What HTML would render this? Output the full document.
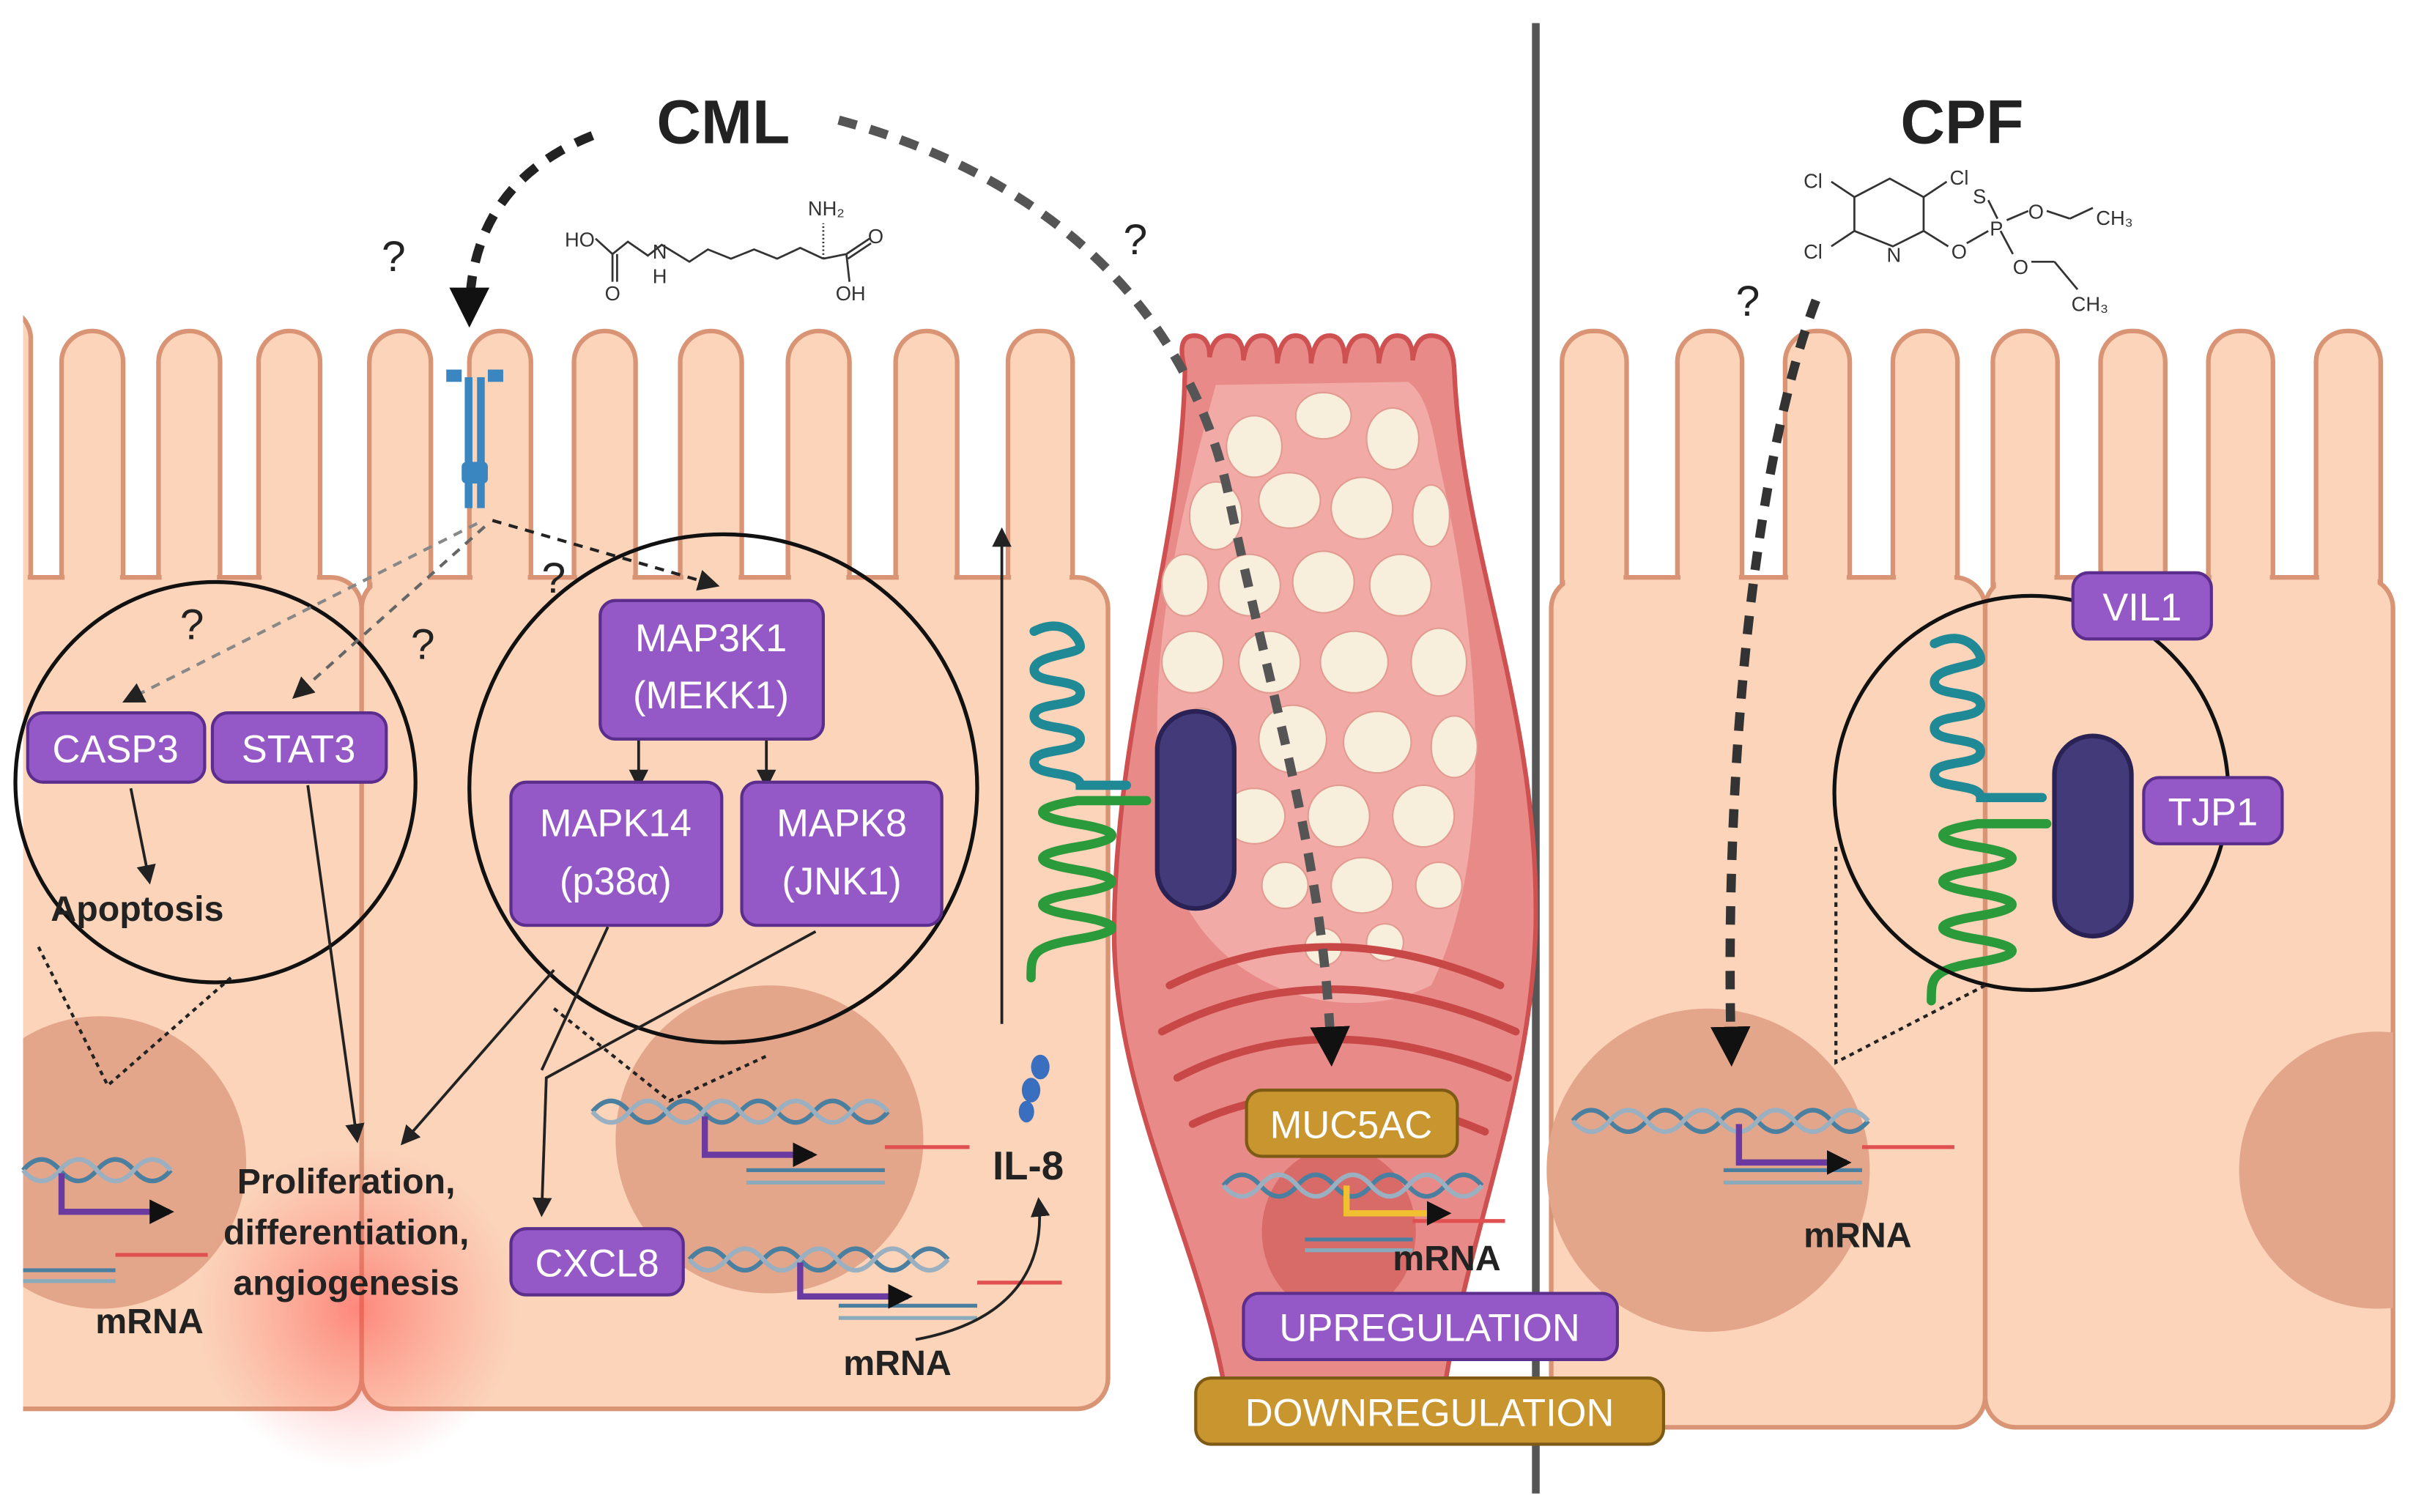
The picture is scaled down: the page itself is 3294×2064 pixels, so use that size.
<!DOCTYPE html>
<html><head><meta charset="utf-8"><style>
html,body{margin:0;padding:0;background:#fff}
svg{display:block}
text{font-family:"Liberation Sans",sans-serif}
.pb{fill:#9459c6;stroke:#5b2d8c;stroke-width:2}
.gb{fill:#c9952f;stroke:#7d5a15;stroke-width:2}
.bt{fill:#fff;font-size:25px;text-anchor:middle}
.cell{fill:#fbd4ba;stroke:#d89475;stroke-width:3}
.cf{fill:#fbd4ba}
.k{fill:#222;font-weight:bold}
.ch{font-size:13px;fill:#333}
</style></head><body>
<svg width="3294" height="2064" viewBox="0 0 1568 982" preserveAspectRatio="none" xmlns="http://www.w3.org/2000/svg">
<defs>
<marker id="ah" viewBox="0 0 10 10" refX="8" refY="5" markerWidth="7" markerHeight="7" orient="auto"><path d="M0,0L10,5L0,10z" fill="#222"/></marker>
<marker id="big" viewBox="0 0 10 10" refX="7" refY="5" markerUnits="userSpaceOnUse" markerWidth="26" markerHeight="26" orient="auto"><path d="M0,0L10,5L0,10z" fill="#111"/></marker>
<marker id="ahb" viewBox="0 0 10 10" refX="8" refY="5" markerWidth="4" markerHeight="4" orient="auto"><path d="M0,0L10,5L0,10z" fill="#111"/></marker>
<radialGradient id="glow"><stop offset="0" stop-color="#ff3b3b" stop-opacity="0.5"/><stop offset="1" stop-color="#ff6060" stop-opacity="0"/></radialGradient>
<clipPath id="lc"><rect x="15" y="0" width="1553" height="982"/></clipPath>
<clipPath id="c1"><rect x="15" y="370" width="220" height="545"/></clipPath>
<clipPath id="c4"><rect x="1290" y="370" width="265" height="555"/></clipPath>
</defs>

<g clip-path="url(#lc)">
<g>
<rect class="cell" x="-20" y="200" width="40" height="200" rx="20"/>
<rect class="cell" x="40" y="215" width="40" height="190" rx="20"/>
<rect class="cell" x="103" y="215" width="40" height="190" rx="20"/>
<rect class="cell" x="168" y="215" width="40" height="190" rx="20"/>
<rect class="cell" x="240" y="215" width="40" height="190" rx="20"/>
<rect class="cell" x="305" y="215" width="40" height="190" rx="20"/>
<rect class="cell" x="373" y="215" width="40" height="190" rx="20"/>
<rect class="cell" x="442" y="215" width="40" height="190" rx="20"/>
<rect class="cell" x="512" y="215" width="40" height="190" rx="20"/>
<rect class="cell" x="582" y="215" width="40" height="190" rx="20"/>
<rect class="cell" x="655" y="215" width="42" height="190" rx="20"/>
<rect class="cell" x="-20" y="375" width="255" height="540" rx="20"/>
<rect class="cell" x="235" y="375" width="485" height="540" rx="20"/>
<g class="cf">
<rect x="-20" y="370" width="38" height="15"/>
<rect x="42" y="370" width="36" height="15"/><rect x="105" y="370" width="36" height="15"/><rect x="170" y="370" width="36" height="15"/>
<rect x="242" y="370" width="36" height="15"/><rect x="307" y="370" width="36" height="15"/><rect x="375" y="370" width="36" height="15"/>
<rect x="444" y="370" width="36" height="15"/><rect x="514" y="370" width="36" height="15"/><rect x="584" y="370" width="36" height="15"/><rect x="657" y="370" width="38" height="15"/>
</g>
</g>
<circle cx="65" cy="755" r="95" fill="#e3a68a" clip-path="url(#c1)"/>
<circle cx="500" cy="740" r="100" fill="#e3a68a"/>
</g>
<circle cx="232" cy="850" r="105" fill="url(#glow)"/>

<g>
<rect class="cell" x="1015" y="215" width="42" height="190" rx="20"/>
<rect class="cell" x="1090" y="215" width="42" height="190" rx="20"/>
<rect class="cell" x="1160" y="215" width="42" height="190" rx="20"/>
<rect class="cell" x="1230" y="215" width="42" height="190" rx="20"/>
<rect class="cell" x="1295" y="215" width="42" height="190" rx="20"/>
<rect class="cell" x="1365" y="215" width="42" height="190" rx="20"/>
<rect class="cell" x="1435" y="215" width="42" height="190" rx="20"/>
<rect class="cell" x="1505" y="215" width="42" height="190" rx="20"/>
<rect class="cell" x="1008" y="375" width="282" height="552" rx="20"/>
<rect class="cell" x="1290" y="375" width="265" height="552" rx="20"/>
<g class="cf">
<rect x="1017" y="370" width="38" height="15"/><rect x="1092" y="370" width="38" height="15"/><rect x="1162" y="370" width="38" height="15"/>
<rect x="1232" y="370" width="38" height="15"/><rect x="1297" y="370" width="38" height="15"/><rect x="1367" y="370" width="38" height="15"/>
<rect x="1437" y="370" width="38" height="15"/><rect x="1507" y="370" width="38" height="15"/>
</g>
<circle cx="1110" cy="760" r="105" fill="#e3a68a"/>
<circle cx="1545" cy="760" r="90" fill="#e3a68a" clip-path="url(#c4)"/>
</g>

<line x1="998" y1="15" x2="998" y2="970" stroke="#555" stroke-width="5"/>

<!-- GOBLET -->
<path d="M770,240 Q764,218 776,218 Q786,218 786,232 Q788,218 798,218 Q808,218 808,234 Q810,218 820,218 Q830,218 830,236 Q832,218 842,218 Q852,218 852,236 Q854,218 864,218 Q874,218 874,236 Q876,218 886,218 Q896,218 896,236 Q898,218 908,218 Q918,218 918,234 Q920,218 930,218 Q944,218 945,240 C950,360 1000,460 998,600 C995,720 945,820 935,932 L800,932 C790,820 722,720 724,600 C726,460 768,360 770,240Z" fill="#e88a88" stroke="#cf5050" stroke-width="3"/>
<path d="M790,250 C760,360 740,450 760,560 C780,640 870,670 930,640 C970,560 965,430 935,300 C930,270 925,255 915,248 Z" fill="#f1aaa6"/>
<g fill="#f8eedc" stroke="#e39a90" stroke-width="1">
<ellipse cx="815" cy="290" rx="18" ry="20"/><ellipse cx="860" cy="270" rx="18" ry="15"/><ellipse cx="905" cy="285" rx="17" ry="20"/>
<ellipse cx="790" cy="335" rx="17" ry="22"/><ellipse cx="838" cy="325" rx="20" ry="18"/><ellipse cx="885" cy="330" rx="20" ry="20"/><ellipse cx="930" cy="335" rx="12" ry="20"/>
<ellipse cx="770" cy="380" rx="15" ry="20"/><ellipse cx="812" cy="380" rx="20" ry="20"/><ellipse cx="860" cy="378" rx="20" ry="20"/><ellipse cx="910" cy="380" rx="20" ry="20"/>
<ellipse cx="775" cy="430" rx="20" ry="20"/><ellipse cx="825" cy="430" rx="20" ry="20"/><ellipse cx="880" cy="430" rx="22" ry="20"/><ellipse cx="935" cy="430" rx="18" ry="22"/>
<ellipse cx="780" cy="480" rx="18" ry="20"/><ellipse cx="840" cy="480" rx="22" ry="22"/><ellipse cx="895" cy="482" rx="22" ry="20"/><ellipse cx="945" cy="485" rx="15" ry="20"/>
<ellipse cx="815" cy="530" rx="20" ry="18"/><ellipse cx="870" cy="530" rx="20" ry="20"/><ellipse cx="925" cy="530" rx="20" ry="20"/>
<ellipse cx="835" cy="575" rx="15" ry="15"/><ellipse cx="885" cy="575" rx="20" ry="18"/><ellipse cx="935" cy="575" rx="15" ry="15"/>
<ellipse cx="860" cy="615" rx="12" ry="12"/><ellipse cx="900" cy="612" rx="12" ry="12"/>
</g>
<g fill="none" stroke="#c84848" stroke-width="5" stroke-linecap="round">
<path d="M760,640 Q860,590 975,640"/><path d="M755,670 Q860,615 985,670"/><path d="M765,700 Q860,650 980,700"/>
<path d="M775,730 Q860,690 965,735"/>
</g>
<ellipse cx="870" cy="800" rx="50" ry="55" fill="#d86a68"/>

<g fill="none" stroke-width="6" stroke-linecap="round">
<path d="M672,410 c20,-10 30,5 30,10 s-30,5 -30,15 s30,5 30,15 s-30,5 -30,15 s30,5 30,15 s-30,5 -30,15 s30,5 30,15 l30,0" stroke="#1f8a96"/>
<path d="M745,520 l-45,0 c-30,5 -30,10 0,15 s30,10 0,15 s-30,10 0,15 s30,10 0,15 s-30,10 0,15 s30,10 0,15 s-30,10 -30,25" stroke="#2a9a3a"/>
</g>
<rect x="752" y="462" width="50" height="128" rx="25" fill="#433a7a" stroke="#2a2255" stroke-width="3"/>
<g fill="none" stroke-width="6" stroke-linecap="round">
<path d="M1257,418 c20,-10 30,5 30,10 s-30,5 -30,15 s30,5 30,15 s-30,5 -30,15 s30,5 30,15 s-30,5 -30,15 s30,5 30,15 l40,0" stroke="#1f8a96"/>
<path d="M1330,535 l-45,0 c-30,5 -30,10 0,15 s30,10 0,15 s-30,10 0,15 s30,10 0,15 s-30,10 0,15 s30,10 0,15 s-30,10 -30,25" stroke="#2a9a3a"/>
</g>
<rect x="1335" y="478" width="50" height="130" rx="25" fill="#433a7a" stroke="#2a2255" stroke-width="3"/>

<circle cx="140" cy="508" r="130" fill="none" stroke="#111" stroke-width="2.5"/>
<circle cx="470" cy="512" r="165" fill="none" stroke="#111" stroke-width="2.5"/>
<circle cx="1320" cy="515" r="128" fill="none" stroke="#111" stroke-width="2.5"/>
<g stroke="#222" stroke-width="2" stroke-dasharray="3,3" fill="none">
<path d="M25,615 L70,705 L150,635"/>
<path d="M360,655 L435,715 L500,685"/>
<path d="M1193,550 L1193,690 L1290,640"/>
</g>

<g fill="none" stroke-width="3">
<path d="M15,760 q12,-14 24,0 t24,0 t24,0 t24,0" stroke="#4a7fa0"/><path d="M15,760 q12,14 24,0 t24,0 t24,0 t24,0" stroke="#9ab0c0"/>
<path d="M385,722 q12,-14 24,0 t24,0 t24,0 t24,0 t24,0 t24,0 t24,0 t24,0" stroke="#4a7fa0"/><path d="M385,722 q12,14 24,0 t24,0 t24,0 t24,0 t24,0 t24,0 t24,0 t24,0" stroke="#9ab0c0"/>
<path d="M448,818 q12,-14 24,0 t24,0 t24,0 t24,0 t24,0 t24,0 t24,0" stroke="#4a7fa0"/><path d="M448,818 q12,14 24,0 t24,0 t24,0 t24,0 t24,0 t24,0 t24,0" stroke="#9ab0c0"/>
<path d="M795,770 q12,-14 24,0 t24,0 t24,0 t24,0 t24,0 t24,0 t24,0" stroke="#4a7fa0"/><path d="M795,770 q12,14 24,0 t24,0 t24,0 t24,0 t24,0 t24,0 t24,0" stroke="#9ab0c0"/>
<path d="M1022,728 q12,-14 24,0 t24,0 t24,0 t24,0 t24,0 t24,0 t24,0 t24,0" stroke="#4a7fa0"/><path d="M1022,728 q12,14 24,0 t24,0 t24,0 t24,0 t24,0 t24,0 t24,0 t24,0" stroke="#9ab0c0"/>
</g>
<g stroke-width="2.5" fill="none">
<path d="M15,825 h60" stroke="#4a7fa0"/><path d="M15,832 h60" stroke="#8ab"/><path d="M75,815 h60" stroke="#e05050"/>
<path d="M485,760 h90" stroke="#4a7fa0"/><path d="M485,768 h90" stroke="#8ab"/><path d="M575,745 h55" stroke="#e05050"/>
<path d="M545,848 h90" stroke="#4a7fa0"/><path d="M545,856 h90" stroke="#8ab"/><path d="M635,833 h55" stroke="#e05050"/>
<path d="M848,805 h70" stroke="#4a7fa0"/><path d="M848,812 h70" stroke="#8ab"/><path d="M918,793 h60" stroke="#e05050"/>
<path d="M1120,760 h90" stroke="#4a7fa0"/><path d="M1120,768 h90" stroke="#8ab"/><path d="M1210,745 h60" stroke="#e05050"/>
</g>
<g fill="none" stroke-width="4">
<path d="M40,762 v25 h70" stroke="#6a3aa0" marker-end="url(#ahb)"/>
<path d="M458,725 v25 h70" stroke="#6a3aa0" marker-end="url(#ahb)"/>
<path d="M520,820 v22 h70" stroke="#6a3aa0" marker-end="url(#ahb)"/>
<path d="M875,770 v18 h65" stroke="#f0c030" marker-end="url(#ahb)"/>
<path d="M1130,730 v25 h70" stroke="#6a3aa0" marker-end="url(#ahb)"/>
</g>

<g fill="#3a86c0">
<rect x="302" y="245" width="5" height="85"/><rect x="310" y="245" width="5" height="85"/>
<path d="M290,240 h10 v8 h-10z M317,240 h10 v8 h-10z"/>
<rect x="300" y="300" width="17" height="14" rx="3"/>
</g>
<g fill="#3a6fc0"><ellipse cx="676" cy="693" rx="6" ry="8"/><ellipse cx="670" cy="708" rx="6" ry="8"/><ellipse cx="667" cy="722" rx="5" ry="7"/></g>

<g fill="none" stroke="#222" stroke-width="1.8">
<line x1="651" y1="665" x2="651" y2="345" marker-end="url(#ah)"/>
<path d="M595,870 C650,860 680,830 675,780" marker-end="url(#ah)"/>
<line x1="85" y1="512" x2="97" y2="572" marker-end="url(#ah)"/>
<path d="M200,510 L232,740" marker-end="url(#ah)"/>
<path d="M360,630 L262,742" marker-end="url(#ah)"/>
<path d="M530,605 L355,700 L352,788" marker-end="url(#ah)"/>
<path d="M395,602 L352,695"/>
<line x1="415" y1="480" x2="415" y2="510" marker-end="url(#ah)"/>
<line x1="498" y1="480" x2="498" y2="510" marker-end="url(#ah)"/>
</g>
<g fill="none" stroke="#222" stroke-width="2" stroke-dasharray="6,5">
<path d="M310,340 L82,455" marker-end="url(#ah)" stroke="#888"/>
<path d="M315,342 L192,452" marker-end="url(#ah)" stroke="#666"/>
<path d="M320,338 L465,380" marker-end="url(#ah)"/>
</g>
<g fill="none" stroke-width="6" stroke-dasharray="12,9">
<path d="M385,88 C330,110 305,150 305,205" stroke="#222" marker-end="url(#big)"/>
<path d="M545,78 C700,120 780,220 800,330 C830,470 860,560 865,685" stroke="#555" marker-end="url(#big)"/>
<path d="M1180,195 C1140,300 1120,500 1125,685" stroke="#333" marker-end="url(#big)"/>
</g>

<g stroke="#333" stroke-width="1.3" fill="none">
<polyline points="387,155 398,165 408,157 421,166 430,159 448,170 460,162 475,168 490,162 505,168 520,161 535,168"/>
<line x1="398" y1="165" x2="398" y2="183"/><line x1="401" y1="165" x2="401" y2="183"/>
<line x1="535" y1="168" x2="535" y2="145" stroke-dasharray="1,1.5"/>
<line x1="535" y1="168" x2="550" y2="165"/><line x1="550" y1="165" x2="565" y2="155"/><line x1="551" y1="168" x2="566" y2="158"/><line x1="550" y1="165" x2="552" y2="183"/>
</g>
<text class="ch" x="367" y="160">HO</text><text class="ch" x="424" y="168">N</text><text class="ch" x="424" y="184">H</text>
<text class="ch" x="393" y="195">O</text><text class="ch" x="525" y="140">NH₂</text><text class="ch" x="564" y="158">O</text><text class="ch" x="543" y="195">OH</text>
<g stroke="#333" stroke-width="1.3" fill="none">
<polygon points="1205,128 1228,116 1250,128 1250,150 1230,160 1205,150"/>
<line x1="1190" y1="118" x2="1205" y2="128"/><line x1="1250" y1="128" x2="1265" y2="118"/><line x1="1190" y1="160" x2="1205" y2="150"/>
<line x1="1250" y1="150" x2="1266" y2="160"/><line x1="1278" y1="158" x2="1292" y2="150"/>
<line x1="1292" y1="130" x2="1298" y2="142"/><line x1="1304" y1="143" x2="1318" y2="137"/><line x1="1330" y1="137" x2="1345" y2="142"/><line x1="1345" y1="142" x2="1360" y2="135"/>
<line x1="1300" y1="150" x2="1308" y2="165"/><line x1="1320" y1="170" x2="1335" y2="170"/><line x1="1335" y1="170" x2="1350" y2="188"/>
</g>
<text class="ch" x="1172" y="122">Cl</text><text class="ch" x="1267" y="120">Cl</text><text class="ch" x="1172" y="168">Cl</text>
<text class="ch" x="1226" y="170">N</text><text class="ch" x="1268" y="168">O</text><text class="ch" x="1293" y="153">P</text><text class="ch" x="1282" y="132">S</text>
<text class="ch" x="1318" y="142">O</text><text class="ch" x="1308" y="178">O</text><text class="ch" x="1362" y="146">CH₃</text><text class="ch" x="1346" y="202">CH₃</text>

<text class="k" x="470" y="93" font-size="40" text-anchor="middle">CML</text>
<text class="k" x="1275" y="93" font-size="40" text-anchor="middle">CPF</text>
<g font-size="28" fill="#222">
<text x="248" y="176">?</text><text x="730" y="165">?</text><text x="1128" y="205">?</text>
<text x="117" y="415">?</text><text x="267" y="428">?</text><text x="352" y="385">?</text>
</g>

<rect class="pb" x="18" y="463" width="115" height="45" rx="10"/><text class="bt" x="75" y="495">CASP3</text>
<rect class="pb" x="138" y="463" width="113" height="45" rx="10"/><text class="bt" x="194" y="495">STAT3</text>
<rect class="pb" x="390" y="390" width="145" height="90" rx="10"/><text class="bt" x="462" y="423">MAP3K1</text><text class="bt" x="462" y="460">(MEKK1)</text>
<rect class="pb" x="332" y="508" width="137" height="93" rx="10"/><text class="bt" x="400" y="543">MAPK14</text><text class="bt" x="400" y="581">(p38α)</text>
<rect class="pb" x="482" y="508" width="130" height="93" rx="10"/><text class="bt" x="547" y="543">MAPK8</text><text class="bt" x="547" y="581">(JNK1)</text>
<rect class="pb" x="332" y="798" width="112" height="43" rx="10"/><text class="bt" x="388" y="829">CXCL8</text>
<rect class="gb" x="810" y="708" width="137" height="43" rx="10"/><text class="bt" x="878" y="739">MUC5AC</text>
<rect class="pb" x="808" y="840" width="243" height="43" rx="10"/><text class="bt" x="929" y="871">UPREGULATION</text>
<rect class="gb" x="777" y="895" width="304" height="43" rx="10"/><text class="bt" x="929" y="926">DOWNREGULATION</text>
<rect class="pb" x="1347" y="372" width="90" height="43" rx="10"/><text class="bt" x="1392" y="403">VIL1</text>
<rect class="pb" x="1393" y="505" width="90" height="43" rx="10"/><text class="bt" x="1438" y="536">TJP1</text>

<g class="k" font-size="23">
<text x="33" y="598">Apoptosis</text>
<text x="225" y="775" text-anchor="middle">Proliferation,</text>
<text x="225" y="808" text-anchor="middle">differentiation,</text>
<text x="225" y="841" text-anchor="middle">angiogenesis</text>
<text x="62" y="866">mRNA</text>
<text x="548" y="893">mRNA</text>
<text x="645" y="766" font-size="26">IL-8</text>
<text x="905" y="825">mRNA</text>
<text x="1172" y="810">mRNA</text>
</g>
</svg>
</body></html>
